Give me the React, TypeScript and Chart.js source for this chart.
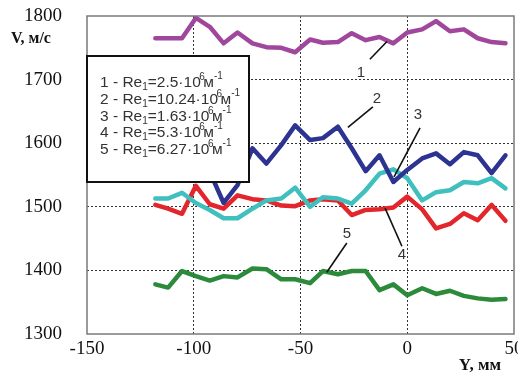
import React, { useEffect, useRef } from "react";
import { Chart, registerables } from "chart.js";

Chart.register(...registerables);

// Y coordinate, mm
const X_MM = [-118, -112, -105.5, -99, -92.5, -86, -79.5, -72.5, -66, -59, -52.5, -45.5, -39.5, -32.5, -26, -19.5, -13, -6.5, 0, 7, 13.5, 20, 26.5, 33, 39.5, 46];

// V, m/s
const S1 = [1765, 1765, 1765, 1797, 1783, 1757, 1774, 1757, 1751, 1750, 1743, 1763, 1758, 1759, 1773, 1762, 1767, 1757, 1774, 1779, 1792, 1776, 1779, 1765, 1759, 1757];
const S2 = [1600, 1610, 1595, 1580, 1555, 1506, 1534, 1592, 1568, 1597, 1628, 1605, 1608, 1626, 1592, 1556, 1581, 1539, 1558, 1576, 1584, 1567, 1586, 1581, 1553, 1581];
const S3 = [1513, 1513, 1522, 1506, 1495, 1482, 1482, 1497, 1510, 1513, 1530, 1500, 1515, 1513, 1505, 1526, 1552, 1559, 1545, 1510, 1523, 1526, 1539, 1537, 1545, 1529];
const S4 = [1503, 1497, 1489, 1533, 1504, 1497, 1518, 1512, 1510, 1502, 1501, 1510, 1512, 1510, 1487, 1495, 1496, 1499, 1516, 1496, 1466, 1473, 1490, 1479, 1503, 1478];
const S5 = [1378, 1373, 1399, 1391, 1384, 1391, 1389, 1403, 1402, 1386, 1386, 1380, 1399, 1394, 1399, 1399, 1369, 1378, 1361, 1372, 1363, 1368, 1360, 1356, 1354, 1355];

const SERIES_NAMES = ["1", "2", "3", "4", "5"];
const RE_VALUES = ["2.5", "10.24", "1.63", "5.3", "6.27"];

const X_MIN = -150, X_MAX = 50, X_STEP = 50;
const Y_MIN = 1300, Y_MAX = 1800, Y_STEP = 100;

// leader lines: [label, fromX, fromY, toX, toY, textX, textY] in data units
const LEADERS: [string, number, number, number, number, number, number][] = [
  ["1", -17.5, 1732, -9.5, 1760, -21.7, 1711],
  ["2", -27.8, 1625, -16.1, 1657, -14.2, 1669],
  ["3", 6, 1624, -6.2, 1547, 5, 1645],
  ["4", -10.4, 1498, -2.5, 1438, -2.5, 1425],
  ["5", -28.3, 1443, -37.7, 1397, -28.3, 1458],
];

const COLORS = ["#a0469c", "#2c3391", "#3fbfbe", "#e2262b", "#2c8a3b"];

const overlay = {
  id: "overlay",
  afterDatasetsDraw(chart: any) {
    const { ctx, chartArea: ca, scales } = chart;
    const xs = scales.x, ys = scales.y;
    ctx.save();
    // frame
    ctx.strokeStyle = "#7a7a7a";
    ctx.lineWidth = 1.5;
    ctx.setLineDash([]);
    ctx.strokeRect(ca.left, ca.top, ca.right - ca.left, ca.bottom - ca.top);

    // leaders
    ctx.strokeStyle = "#111";
    ctx.lineWidth = 1.6;
    ctx.fillStyle = "#333";
    ctx.font = "15px 'Liberation Sans', Arial, sans-serif";
    ctx.textAlign = "center";
    ctx.textBaseline = "middle";
    for (const [lab, x1, y1, x2, y2, tx, ty] of LEADERS) {
      ctx.beginPath();
      ctx.moveTo(xs.getPixelForValue(x1), ys.getPixelForValue(y1));
      ctx.lineTo(xs.getPixelForValue(x2), ys.getPixelForValue(y2));
      ctx.stroke();
      ctx.fillText(lab, xs.getPixelForValue(tx), ys.getPixelForValue(ty));
    }

    // legend box
    const bl = ca.left, bt = ca.top + 40, bw = 162, bh = 126;
    ctx.fillStyle = "#fff";
    ctx.fillRect(bl, bt, bw, bh);
    ctx.strokeStyle = "#111";
    ctx.lineWidth = 2;
    ctx.strokeRect(bl, bt, bw, bh);
    ctx.textAlign = "left";
    ctx.textBaseline = "alphabetic";
    ctx.fillStyle = "#333";
    const big = "15.5px 'Liberation Sans', Arial, sans-serif";
    const small = "10px 'Liberation Sans', Arial, sans-serif";
    for (let i = 0; i < SERIES_NAMES.length; i++) {
      let x = bl + 13;
      const base = bt + 31 + i * 16.8;
      const put = (t: string, f: string, dy: number) => {
        ctx.font = f;
        ctx.fillText(t, x, base + dy);
        x += ctx.measureText(t).width;
      };
      put(`${SERIES_NAMES[i]} - Re`, big, 0);
      put("1", small, 3);
      put(`=${RE_VALUES[i]}·10`, big, 0);
      x -= 1.5;
      put("6", small, -7);
      x -= 1.5;
      put("м", big, 0);
      put("-1", small, -8);
    }

    // axis titles
    ctx.fillStyle = "#111";
    ctx.font = "bold 16px 'Liberation Serif', 'Times New Roman', serif";
    ctx.textAlign = "center";
    ctx.textBaseline = "middle";
    ctx.fillText("V, м/с", 31, 39);
    ctx.font = "bold 17px 'Liberation Serif', 'Times New Roman', serif";
    ctx.fillText("Y, мм", 480, 366);
    ctx.restore();
  },
};

export default function App() {
  const ref = useRef<HTMLCanvasElement | null>(null);
  useEffect(() => {
    if (!ref.current) return;
    const series = [S1, S2, S3, S4, S5];
    const chart = new Chart(ref.current, {
      type: "line",
      data: {
        datasets: series.map((s, i) => ({
          label: SERIES_NAMES[i],
          data: s.map((v, j) => ({ x: X_MM[j], y: v })),
          borderColor: COLORS[i],
          borderWidth: 4.5,
          pointRadius: 0,
          fill: false,
          tension: 0,
          borderJoinStyle: "round" as const,
          borderCapStyle: "round" as const,
        })),
      },
      options: {
        responsive: false,
        animation: false,
        devicePixelRatio: 1,
        layout: { padding: { top: 16, right: 4, left: 0, bottom: 0 } },
        plugins: { legend: { display: false }, tooltip: { enabled: false } },
        scales: {
          x: {
            type: "linear",
            min: X_MIN,
            max: X_MAX,
            ticks: {
              stepSize: X_STEP,
              padding: 4,
              color: "#111",
              font: { family: "'Liberation Serif', 'Times New Roman', serif", size: 19 },
              maxRotation: 0,
              callback: (v: any) => String(v),
            },
            grid: {
              drawTicks: false,
              color: (c: any) => (c.tick && (c.tick.value === X_MIN || c.tick.value === X_MAX) ? "rgba(0,0,0,0)" : "#333"),
              lineWidth: 1,
            },
            border: { display: false, dash: [2, 2] },
            afterFit: (s: any) => {
              s.height = 39;
              s.paddingLeft = 0;
              s.paddingRight = 0;
            },
          },
          y: {
            type: "linear",
            min: Y_MIN,
            max: Y_MAX,
            ticks: {
              stepSize: Y_STEP,
              padding: 25,
              color: "#111",
              font: { family: "'Liberation Serif', 'Times New Roman', serif", size: 19 },
              callback: (v: any) => String(v),
            },
            grid: {
              drawTicks: false,
              color: (c: any) => (c.tick && (c.tick.value === Y_MIN || c.tick.value === Y_MAX) ? "rgba(0,0,0,0)" : "#333"),
              lineWidth: 1,
            },
            border: { display: false, dash: [2, 2] },
            afterFit: (s: any) => {
              s.width = 87;
              s.paddingTop = 0;
              s.paddingBottom = 0;
            },
          },
        },
      },
      plugins: [overlay],
    });
    return () => chart.destroy();
  }, []);
  return (
    <div style={{ position: "fixed", left: 0, top: 0, width: 518, height: 373, background: "#fff" }}>
      <canvas ref={ref} width={518} height={373} style={{ display: "block" }} />
    </div>
  );
}
